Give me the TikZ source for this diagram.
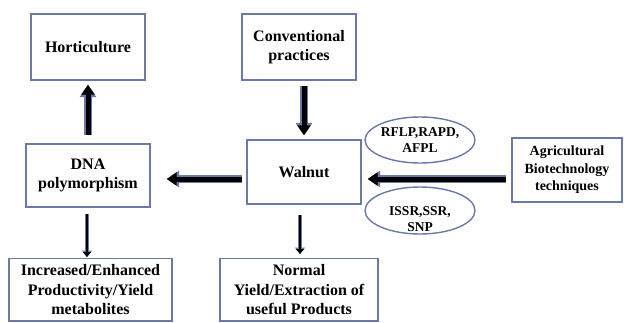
\documentclass[tikz,border=0pt]{standalone}
\usepackage{fontspec}
\setmainfont{Liberation Serif}
\usetikzlibrary{arrows.meta,shapes.geometric}
\definecolor{edge}{HTML}{6B79A8}
\begin{document}
\begin{tikzpicture}[x=1pt,y=-1pt,
  box/.style={draw=edge,line width=1.4pt,align=center,inner sep=0pt,
    font=\fontsize{16}{19.5}\selectfont\bfseries},
  oval/.style={ellipse,draw=edge,line width=1.4pt,inner sep=0pt},
  ovaltext/.style={align=center,inner sep=0pt,font=\fontsize{13.5}{16}\selectfont\bfseries},
  fat/.style={line width=5pt,draw=black,-{Triangle[length=10pt,width=13pt]},
    preaction={draw=edge,line width=7.5pt,-{Triangle[length=12.5pt,width=16pt]}}},
  thin/.style={line width=1.6pt,draw=black,-{Triangle[length=5pt,width=8pt]},
    preaction={draw=edge,line width=3.4pt,-{Triangle[length=6.5pt,width=10pt]}}}
]
\clip (0,0) rectangle (624,322);
\fill[white] (0,0) rectangle (624,322);
\node[box,minimum width=114pt,minimum height=66pt] (horti) at (88,47) {Horticulture};
\node[box,minimum width=114pt,minimum height=66pt] (conv) at (299,47) {Conventional\\practices};
\node[box,minimum width=124pt,minimum height=63pt] (dna) at (88,175.5) {DNA\\polymorphism};
\node[box,minimum width=114pt,minimum height=64pt] (walnut) at (304,172) {Walnut};
\node[box,minimum width=110pt,minimum height=64pt,font=\fontsize{14}{17.5}\selectfont\bfseries] (agri) at (567,170) {Agricultural\\Biotechnology\\techniques};
\node[box,anchor=north,minimum width=163pt,inner ysep=6pt] (incr) at (90.5,258) {Increased/Enhanced\\Productivity/Yield\\metabolites};
\node[box,anchor=north,minimum width=158pt,inner ysep=6pt] (normal) at (299,258) {Normal\\Yield/Extraction of\\useful Products};
\node[oval,minimum width=110pt,minimum height=46pt] (e1) at (420,140) {};
\node[ovaltext] (e1t) at (420,140) {RFLP,RAPD,\\AFPL};
\node[oval,minimum width=110pt,minimum height=47pt] (e2) at (420,210.5) {};
\node[ovaltext] (e2t) at (420,219) {ISSR,SSR,\\SNP};
\coordinate (wa) at ([xshift=-4pt,yshift=-7pt]walnut.west);
\draw[fat] ([yshift=8pt]dna.north) -- ([yshift=-4pt]horti.south);
\draw[fat] ([yshift=-5pt]conv.south -| walnut.north) -- ([yshift=4pt]walnut.north);
\draw[fat] (wa) -- ([xshift=16pt]dna.east |- wa);
\draw[fat] ([xshift=-5pt]agri.west |- wa) -- ([xshift=6pt]walnut.east |- wa);
\draw[thin] ([xshift=-1pt,yshift=-6pt]dna.south) -- ([xshift=-1pt,yshift=1pt]dna.south |- incr.north);
\draw[thin] ([xshift=-4pt,yshift=-10pt]walnut.south) -- ([xshift=-4pt,yshift=4pt]walnut.south |- normal.north);
\end{tikzpicture}
\end{document}
